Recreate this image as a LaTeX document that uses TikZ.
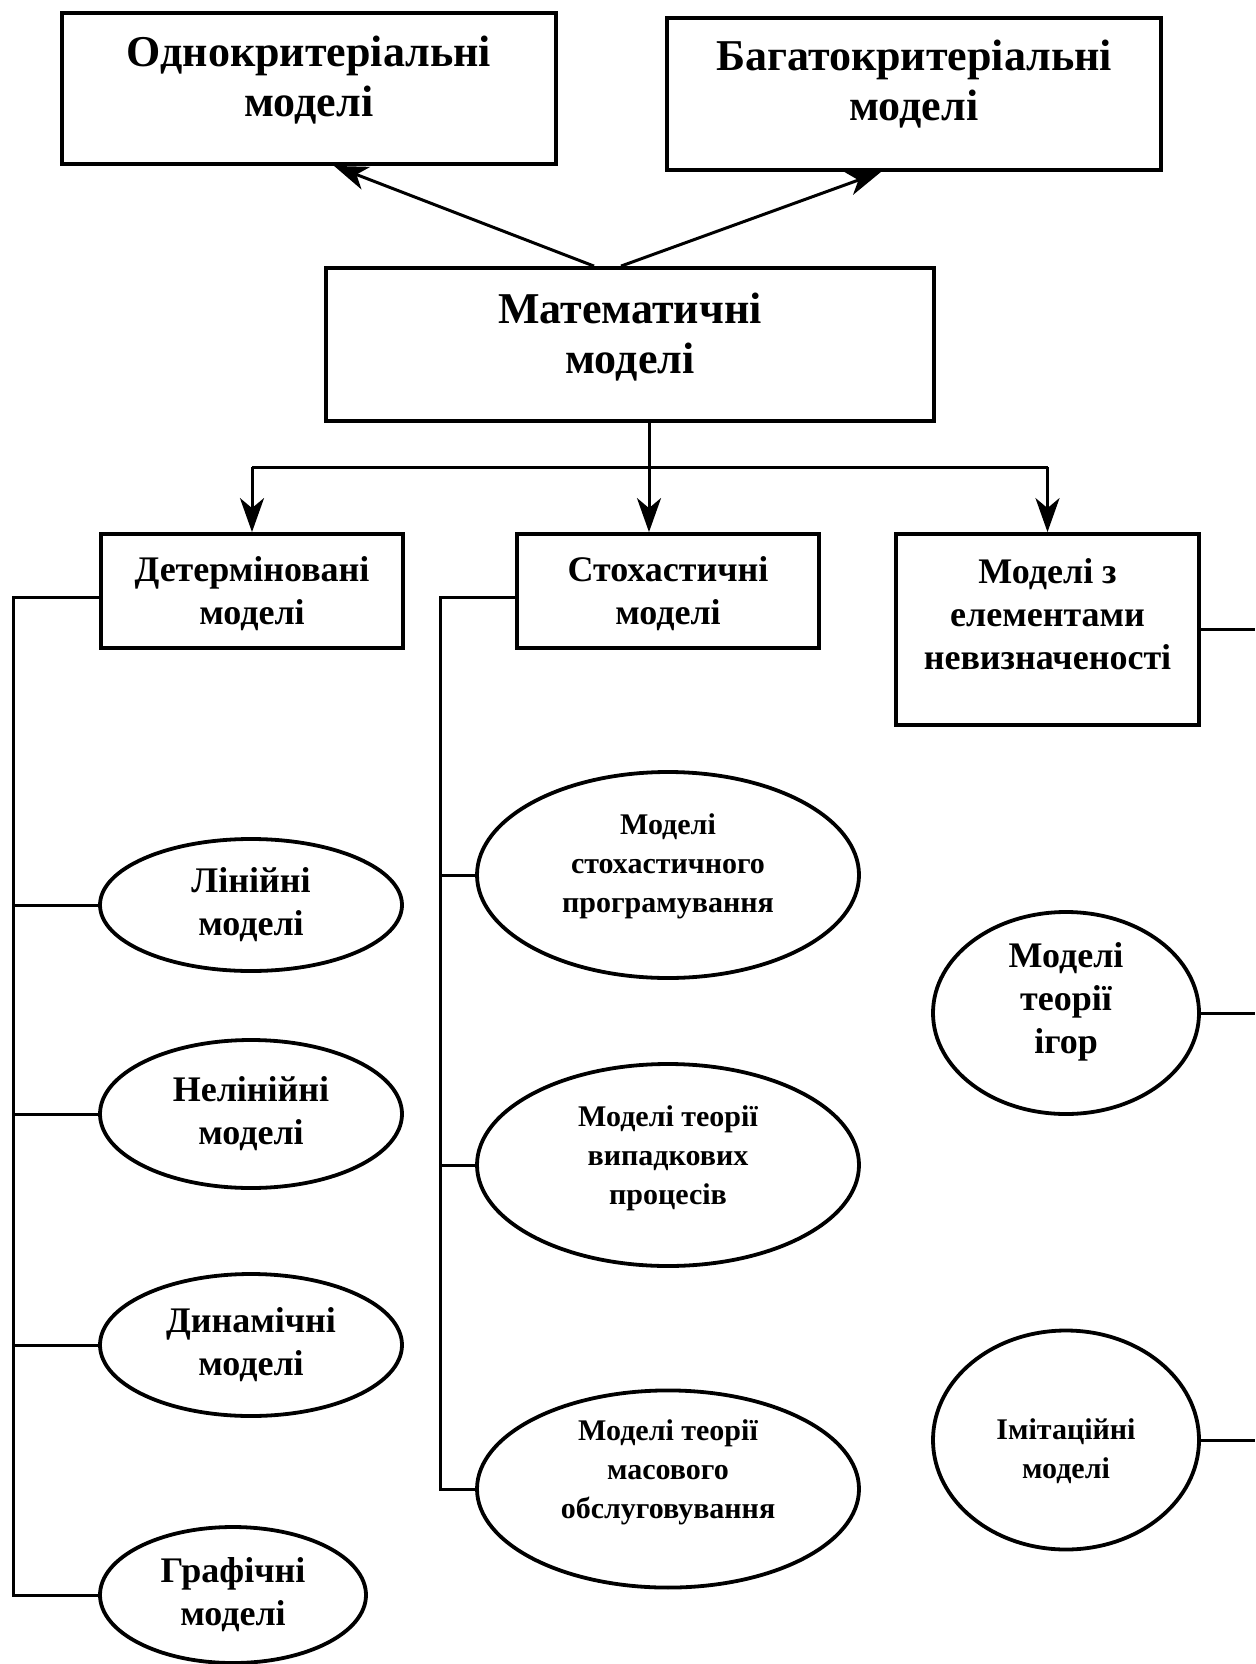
\documentclass[tikz,border=0pt]{standalone}
\usepackage{fontspec}
\setmainfont{Liberation Serif}
\usetikzlibrary{positioning}
\usetikzlibrary{shapes.geometric}
\usetikzlibrary{arrows.meta}

% invisible strut: pushes the text block up inside its frame
\newcommand{\lift}[1]{\rule[-#1]{0pt}{0pt}}
% invisible strut: pushes the text block down inside its frame
\newcommand{\sink}[1]{\rule{0pt}{#1}}

\begin{document}
\begin{tikzpicture}
  [x=0.5pt, y=-0.5pt,
    box/.style={draw=black, line width=1.9pt, align=center, inner sep=0pt,
      font=\bfseries\fontsize{18}{21.5}\selectfont},
    bigbox/.style={box, font=\bfseries\fontsize{22}{25}\selectfont},
    oval/.style={ellipse, draw=black, line width=1.9pt, align=center, inner sep=0pt,
      font=\bfseries\fontsize{18}{21.5}\selectfont},
    smalloval/.style={oval, font=\bfseries\fontsize{15}{19.5}\selectfont},
    ln/.style={draw=black, line width=1.5pt},
    arr/.style={ln, -{Stealth[length=17pt, width=12pt, inset=5pt]}}
  ]
  \useasboundingbox (0,0) rectangle (1255,1664);

  % top level
  \node (one)  at (309,88.5) [bigbox, minimum width=247pt, minimum height=75.5pt] {Однокритеріальні\\моделі\lift{11.8pt}};
  \node (many) at (914,94)   [bigbox, minimum width=247pt, minimum height=76pt] {Багатокритеріальні\\моделі\lift{13.4pt}};
  \node (mat)  at (630,344.5) [bigbox, minimum width=304pt, minimum height=76.5pt] {Математичні\\моделі\lift{10.8pt}};

  % second level
  \node (det)   at (252,591)    [box, minimum width=151pt, minimum height=57pt] {\sink{15.5pt}Детерміновані\\моделі};
  \node (stoch) at (668,591)    [box, minimum width=151pt, minimum height=57pt] {\sink{15.5pt}Стохастичні\\моделі};
  \node (unc)   at (1047.5,629.5) [box, minimum width=151.5pt, minimum height=95.5pt] {Моделі з\\елементами\\невизначеності\lift{15.4pt}};

  % deterministic
  \node (lin)   at (251,905)  [oval, minimum width=151pt, minimum height=66pt] {Лінійні\\моделі};
  \node (nelin) at (251,1114) [oval, minimum width=151pt, minimum height=74pt] {Нелінійні\\моделі};
  \node (dyn)   at (251,1345) [oval, minimum width=151pt, minimum height=71pt] {Динамічні\\моделі};
  \node (graf)  at (233,1595) [oval, minimum width=133pt, minimum height=68pt] {Графічні\\моделі};

  % stochastic
  \node (prog) at (668,875)  [smalloval, minimum width=191pt, minimum height=103pt] {Моделі\\стохастичного\\програмування\lift{11.8pt}};
  \node (vyp)  at (668,1165) [smalloval, minimum width=191pt, minimum height=101pt] {Моделі теорії\\випадкових\\процесів\lift{9.7pt}};
  \node (obs)  at (668,1489) [smalloval, minimum width=191pt, minimum height=94pt] {Моделі теорії\\масового\\обслуговування\lift{20.3pt}};

  % uncertainty
  \node (igor) at (1066,1013) [oval, minimum width=133pt, minimum height=101pt] {Моделі\\теорії\\ігор\lift{14.6pt}};
  \node (imit) at (1066,1440) [smalloval, minimum width=133pt, minimum height=109.5pt] {\sink{21.5pt}Імітаційні\\моделі};

  \coordinate (fork) at (649,467);
  \coordinate (lbus) at (13,597);
  \coordinate (mbus) at (440,597);
  \coordinate (rim)  at (1255,0);

  \draw [arr] ([xshift=-18pt]mat.north) -- ([xshift=12.5pt]one.south);
  \draw [arr] ([xshift=-4.5pt]mat.north) -- ([xshift=-16.5pt]many.south);

  \draw [ln] (mat.south -| fork) -- (fork);
  \draw [ln] (det.north |- fork) -- (unc.north |- fork);
  \draw [arr] (det.north |- fork) -- (det.north);
  \draw [arr] (fork) -- (fork |- stoch.north);
  \draw [arr] (unc.north |- fork) -- (unc.north);

  \draw [ln] (det.west |- lbus) -- (lbus) |- (graf.west);
  \draw [ln] (lin.west -| lbus) -- (lin.west);
  \draw [ln] (nelin.west -| lbus) -- (nelin.west);
  \draw [ln] (dyn.west -| lbus) -- (dyn.west);

  \draw [ln] (stoch.west |- mbus) -- (mbus) |- (obs.west);
  \draw [ln] (prog.west -| mbus) -- (prog.west);
  \draw [ln] (vyp.west -| mbus) -- (vyp.west);

  \draw [ln] (unc.east) -- (unc.east -| rim);
  \draw [ln] (igor.east) -- (igor.east -| rim);
  \draw [ln] (imit.east) -- (imit.east -| rim);
\end{tikzpicture}
\end{document}
